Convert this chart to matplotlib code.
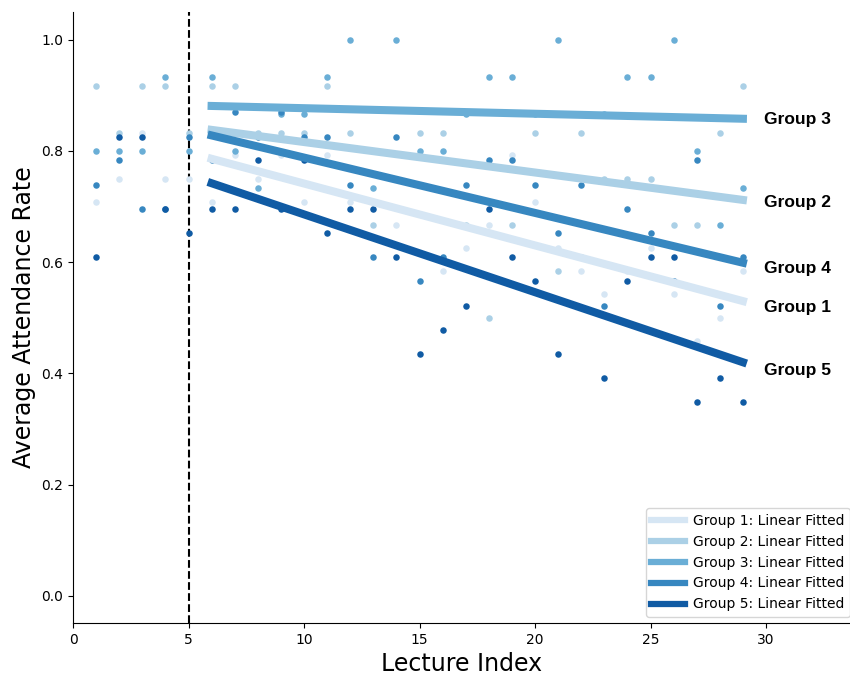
import numpy as np
import matplotlib
matplotlib.use("Agg")
import matplotlib.pyplot as plt
from matplotlib.lines import Line2D

# ---------------- data ----------------
lectures = list(range(1, 30))
group_names = ["Group 1", "Group 2", "Group 3", "Group 4", "Group 5"]

g1 = [0.708, 0.750, 0.833, 0.750, 0.750, 0.708, 0.792, 0.750, 0.792, 0.708,
      0.792, 0.708, 0.708, 0.667, 0.792, 0.584, 0.625, 0.667, 0.792, 0.708,
      0.625, 0.584, 0.543, 0.584, 0.625, 0.543, 0.459, 0.500, 0.584]
g2 = [0.917, 0.833, 0.917, 0.917, 0.833, 0.917, 0.917, 0.833, 0.833, 0.833,
      0.917, 0.833, 0.667, 0.750, 0.833, 0.833, 0.667, 0.500, 0.667, 0.833,
      0.584, 0.833, 0.750, 0.750, 0.750, 0.667, 0.667, 0.833, 0.917]
g3 = [0.800, 0.800, 0.800, 0.933, 0.800, 0.933, 0.800, 0.733, 0.867, 0.867,
      0.933, 1.000, 0.733, 1.000, 0.800, 0.800, 0.867, 0.933, 0.933, 0.867,
      1.000, 0.867, 0.867, 0.933, 0.933, 1.000, 0.800, 0.667, 0.733]
g4 = [0.739, 0.783, 0.696, 0.696, 0.826, 0.783, 0.870, 0.826, 0.870, 0.826,
      0.826, 0.739, 0.609, 0.826, 0.566, 0.609, 0.739, 0.783, 0.783, 0.739,
      0.652, 0.739, 0.522, 0.696, 0.652, 0.566, 0.783, 0.522, 0.609]
g5 = [0.609, 0.826, 0.826, 0.696, 0.652, 0.696, 0.696, 0.783, 0.696, 0.783,
      0.652, 0.696, 0.696, 0.609, 0.435, 0.478, 0.522, 0.696, 0.609, 0.566,
      0.435, 0.609, 0.391, 0.566, 0.609, 0.609, 0.348, 0.391, 0.348]
groups = [g1, g2, g3, g4, g5]

# linear fit over lectures 6..29 (values at the ends of the fit)
fit_x = [6, 29]
fit_start = [0.786, 0.838, 0.881, 0.828, 0.742]
fit_end = [0.530, 0.712, 0.858, 0.599, 0.420]

split_lecture = 5

x_ticks = [0, 5, 10, 15, 20, 25, 30]
y_ticks = [0.0, 0.2, 0.4, 0.6, 0.8, 1.0]

# ---------------- style ----------------
colors = plt.cm.Blues(np.linspace(0, 1, 7)[1:-1])

fig = plt.figure(figsize=(8.5, 6.77), dpi=100)
ax = fig.add_axes([73 / 850, 1 - 623 / 677, (850 - 73) / 850, (623 - 12) / 677])

for i, vals in enumerate(groups):
    ax.scatter(lectures, vals, s=22, color=colors[i], linewidths=0, zorder=2)

label_x = 30
for i in range(5):
    ax.plot(fit_x, [fit_start[i], fit_end[i]], color=colors[i], lw=5.8,
            solid_capstyle="projecting", zorder=3)
    slope = (fit_end[i] - fit_start[i]) / (fit_x[1] - fit_x[0])
    label_y = fit_end[i] + slope * (label_x - fit_x[1])
    ax.text(29.9, label_y, group_names[i], fontsize=12.5, fontweight="bold",
            family="Liberation Sans", va="center", ha="left")

ax.axvline(split_lecture, color="black", ls="--", lw=1.5, zorder=1)

ax.set_xlim(0, (850 - 73) / 23.1)
ax.set_ylim(-0.049, 1.05)
ax.set_xticks(x_ticks)
ax.set_yticks(y_ticks)
ax.set_xticklabels([str(t) for t in x_ticks])
ax.set_yticklabels([f"{t:.1f}" for t in y_ticks])
ax.tick_params(labelsize=10)
ax.spines["top"].set_visible(False)
ax.spines["right"].set_visible(False)

ax.set_xlabel("Lecture Index", fontsize=17)
ax.set_ylabel("Average Attendance Rate", fontsize=17)

handles = [Line2D([0], [0], color=colors[i], lw=4.5) for i in range(5)]
labels = [f"{n}: Linear Fitted" for n in group_names]
ax.legend(handles, labels, loc="lower right", fontsize=10, handlelength=2.4,
          handletextpad=0.6, borderaxespad=0,
          bbox_to_anchor=((850 - 73) / 777, (623 - 617) / 611))

fig.savefig("out.png", dpi=100)
